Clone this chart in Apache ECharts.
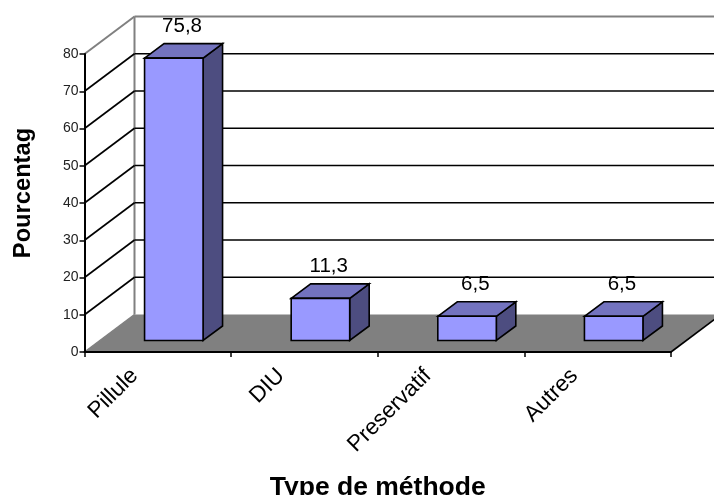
<!DOCTYPE html>
<html>
<head>
<meta charset="utf-8">
<style>html,body{margin:0;padding:0;background:#fff}#chart{width:714px;height:495px}</style>
<script src="https://cdn.jsdelivr.net/npm/echarts@6/dist/echarts.min.js"></script>
</head>
<body>
<div id="chart"></div>
<script>
// Contraceptive methods, share of users in percent
const methods = ['Pillule', 'DIU', 'Preservatif', 'Autres'];
const percentages = [75.8, 11.3, 6.5, 6.5];
const gridValues = [10, 20, 30, 40, 50, 60, 70];
const axisMax = 80;

// Pseudo-3D projection of the chart box and of the columns, in pixels
const WALL_DX = 50, WALL_DY = 37.5;
const BAR_SHIFT_X = 16, BAR_WIDTH = 58.5, BAR_LIFT = 11.5;
const BAR_DX = 19.5, BAR_DY = 14.5;

const INK = '#000';
const FRAME = '#808080';

function line(x1, y1, x2, y2, stroke, width) {
  return { type: 'line', shape: { x1, y1, x2, y2 }, style: { stroke, lineWidth: width } };
}
function poly(points, fill) {
  return { type: 'polygon', shape: { points }, style: { fill, stroke: INK, lineWidth: 1.6, lineJoin: 'miter' } };
}

// Floor and the outline of the side and back walls
function renderBox(params, api) {
  const origin = api.coord([0, 0]);
  const top = api.coord([0, axisMax]);
  const xLeft = origin[0] - api.size([1, 0])[0] / 2;
  const xRight = xLeft + api.size([1, 0])[0] * methods.length;
  const y0 = origin[1], yTop = top[1];
  const canvasRight = api.getWidth();
  return {
    type: 'group',
    children: [
      { type: 'polygon',
        shape: { points: [[xLeft, y0], [xLeft + WALL_DX, y0 - WALL_DY], [xRight + WALL_DX, y0 - WALL_DY], [xRight, y0]] },
        style: { fill: FRAME } },
      line(xLeft, y0, xLeft + WALL_DX, y0 - WALL_DY, FRAME, 1.5),
      line(xRight, y0, xRight + WALL_DX, y0 - WALL_DY, INK, 1.6),
      line(xLeft + WALL_DX, y0 - WALL_DY, xLeft + WALL_DX, yTop - WALL_DY, FRAME, 2),
      line(xLeft, yTop, xLeft + WALL_DX, yTop - WALL_DY, FRAME, 2),
      line(xLeft + WALL_DX, yTop - WALL_DY, canvasRight, yTop - WALL_DY, FRAME, 2)
    ]
  };
}

// One gridline: up the side wall, then across the back wall
function renderGridLine(params, api) {
  const origin = api.coord([0, api.value(0)]);
  const xLeft = origin[0] - api.size([1, 0])[0] / 2;
  const y = origin[1];
  return {
    type: 'group',
    children: [
      line(xLeft, y, xLeft + WALL_DX, y - WALL_DY, INK, 1.6),
      line(xLeft + WALL_DX, y - WALL_DY, api.getWidth(), y - WALL_DY, INK, 1.6)
    ]
  };
}

// Column with front, top and side faces, and its value above
function renderColumn(params, api) {
  const base = api.coord([api.value(0), 0]);
  const head = api.coord([api.value(0), api.value(1)]);
  const left = base[0] + BAR_SHIFT_X - BAR_WIDTH / 2;
  const right = left + BAR_WIDTH;
  const bottom = base[1] - BAR_LIFT;
  const upper = head[1] - BAR_LIFT;
  return {
    type: 'group',
    children: [
      poly([[right, upper], [right + BAR_DX, upper - BAR_DY], [right + BAR_DX, bottom - BAR_DY], [right, bottom]], '#4D4D80'),
      poly([[left, upper], [left + BAR_DX, upper - BAR_DY], [right + BAR_DX, upper - BAR_DY], [right, upper]], '#7373BF'),
      poly([[left, upper], [right, upper], [right, bottom], [left, bottom]], '#9999FF'),
      { type: 'text',
        style: {
          x: (left + right + BAR_DX) / 2 - 1.5, y: upper - BAR_DY - 7,
          text: String(api.value(1)).replace('.', ','),
          fill: INK, font: '20.5px "Liberation Sans"', align: 'center', verticalAlign: 'bottom'
        } }
    ]
  };
}

const chart = echarts.init(document.getElementById('chart'), null, { renderer: 'canvas' });
chart.setOption({
  animation: false,
  backgroundColor: '#fff',
  textStyle: { fontFamily: '"Liberation Sans"' },
  grid: { left: 84.5, top: 54, width: 586.5, height: 298, containLabel: false, outerBoundsMode: 'none' },
  xAxis: {
    type: 'category',
    data: methods,
    z: 5,
    name: 'Type de méthode',
    nameLocation: 'middle',
    nameGap: 122,
    nameTextStyle: { fontSize: 26.5, fontWeight: 'bold', color: INK },
    axisLine: { lineStyle: { color: INK, width: 2 } },
    axisTick: { show: true, length: 5, lineStyle: { color: INK, width: 1.5 } },
    axisLabel: { rotate: 45, fontSize: 22.5, color: INK, margin: -3, padding: [0, 33, 0, 0], interval: 0 }
  },
  yAxis: {
    type: 'value',
    min: 0,
    max: axisMax,
    interval: 10,
    z: 5,
    name: 'Pourcentag',
    nameLocation: 'middle',
    nameGap: 49,
    nameTextStyle: { fontSize: 23.7, fontWeight: 'bold', color: INK, padding: [0, 0, 0, 20] },
    axisLine: { show: true, lineStyle: { color: INK, width: 2 } },
    axisTick: { show: true, length: 5, lineStyle: { color: INK, width: 1.5 } },
    axisLabel: { fontSize: 14, color: '#222', margin: 6 },
    splitLine: { show: false }
  },
  series: [
    { type: 'custom', coordinateSystem: 'cartesian2d', clip: false, silent: true, z: 1,
      renderItem: renderBox, data: [[0, 0]], encode: { x: 0, y: 1 } },
    { type: 'custom', coordinateSystem: 'cartesian2d', clip: false, silent: true, z: 2,
      renderItem: renderGridLine, data: gridValues.map(v => [v]), encode: { y: 0 } },
    { type: 'custom', coordinateSystem: 'cartesian2d', clip: false, silent: true, z: 3,
      renderItem: renderColumn, data: percentages.map((v, i) => [i, v]), encode: { x: 0, y: 1 } }
  ]
});
</script>
</body>
</html>
